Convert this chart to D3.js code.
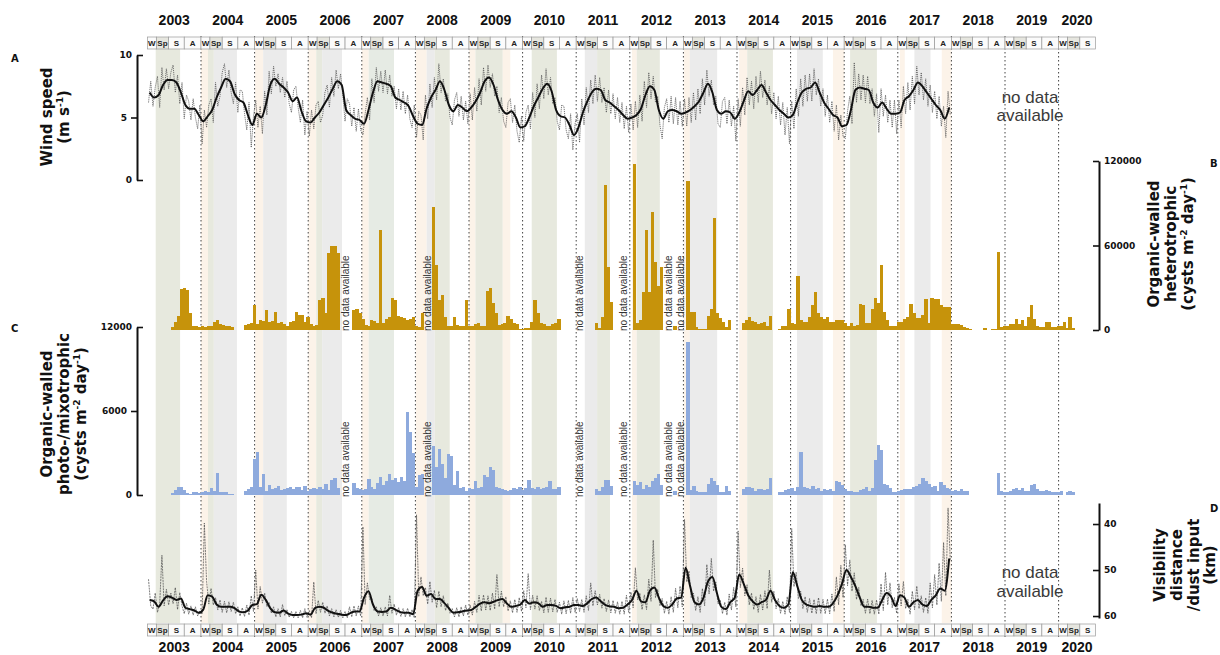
<!DOCTYPE html>
<html><head><meta charset="utf-8">
<script src="https://cdn.jsdelivr.net/npm/d3@7"></script>
<style>body{margin:0;background:#fff}svg{display:block}</style>
</head><body>
<svg id="chart" width="1220" height="655"></svg>
<script>
// ---------- data ----------
const years = d3.range(2003, 2021);
const seasonNames = ["W", "Sp", "S", "A"];
const seasonBounds = [0, 2 / 12, 4.75 / 12, 8.25 / 12, 1];

// shaded seasonal bands [start, end, kind]
const bands = [
  [2003.155, 2003.61, "g"],
  [2004.00, 2004.13, "p"], [2004.13, 2004.24, "g"], [2004.24, 2004.67, "k"],
  [2005.01, 2005.16, "p"], [2005.16, 2005.60, "k"],
  [2006.00, 2006.15, "p"], [2006.15, 2006.26, "g"], [2006.26, 2006.63, "k"],
  [2007.00, 2007.13, "p"], [2007.13, 2007.60, "m"],
  [2008.01, 2008.21, "p"], [2008.21, 2008.36, "k"], [2008.36, 2008.64, "g"],
  [2009.00, 2009.12, "p"], [2009.12, 2009.63, "g"], [2009.63, 2009.77, "p"],
  [2010.17, 2010.64, "g"],
  [2011.16, 2011.39, "k"], [2011.39, 2011.63, "g"],
  [2012.04, 2012.13, "p"], [2012.13, 2012.56, "g"],
  [2013.01, 2013.12, "p"], [2013.12, 2013.63, "k"],
  [2014.04, 2014.19, "p"], [2014.19, 2014.67, "g"],
  [2015.12, 2015.60, "k"], [2015.79, 2016.00, "p"],
  [2016.11, 2016.61, "g"],
  [2017.04, 2017.13, "p"], [2017.31, 2017.61, "k"], [2017.82, 2018.00, "p"]
];

// wind speed (m/s): monthly running mean, one row per year 2003-2017
const windMonthly = [
  [7.0,6.6,6.8,7.6,8.0,8.0,7.8,7.0,6.0,5.7,5.7,5.2],
  [4.7,5.1,5.6,6.6,7.4,8.1,7.9,6.9,6.4,6.2,5.2,4.4],
  [5.3,5.0,6.0,7.6,8.1,7.7,7.4,7.0,6.3,6.6,5.5,4.7],
  [4.6,5.0,5.4,6.0,6.6,7.3,7.9,7.6,5.6,5.2,4.9,4.8],
  [4.5,5.6,7.0,7.9,7.8,7.7,7.5,6.6,6.4,6.2,5.9,5.1],
  [4.5,4.4,5.7,6.6,7.2,7.9,7.2,6.0,5.5,6.0,5.8,5.5],
  [5.8,6.3,7.0,7.9,8.2,7.6,6.4,5.6,5.3,5.5,5.0,4.2],
  [4.3,5.0,5.9,6.6,7.3,7.7,7.1,5.6,5.1,5.0,4.4,3.6],
  [4.2,5.4,6.3,7.0,7.3,7.2,6.4,6.2,5.9,5.6,5.2,4.9],
  [5.0,5.2,5.7,6.8,7.5,7.2,5.6,4.9,5.5,5.6,5.5,5.3],
  [5.4,5.6,5.9,6.3,7.0,7.7,7.0,5.6,5.3,5.5,5.4,4.9],
  [5.4,6.3,7.1,6.8,7.2,7.6,7.0,6.4,6.0,5.6,5.3,5.0],
  [5.2,6.2,7.0,7.3,7.4,7.8,7.0,6.2,5.7,5.2,5.0,4.3],
  [4.4,5.6,7.2,7.4,7.3,7.2,6.2,5.8,6.2,5.7,5.3,5.3],
  [5.4,6.4,6.7,7.2,7.8,7.5,7.0,6.5,6.0,5.6,4.9,5.8]
];
// wind speed (m/s): half-monthly values, one row per year
const windRaw = [
  [6.2,7.9,5.9,7.4,8.3,5.8,9.0,7.2,8.9,7.3,8.6,9.2,7.0,8.4,6.1,7.8,4.9,6.8,6.3,4.8,6.5,5.0,4.1,6.0],
  [2.9,5.6,4.2,6.0,6.5,4.6,7.8,5.9,6.7,8.6,9.3,7.4,8.8,7.0,6.1,7.8,5.4,7.2,7.1,5.3,4.0,6.2,2.6,5.1],
  [6.4,4.2,5.9,3.7,7.1,5.2,8.7,6.9,9.1,7.5,8.5,7.0,8.2,6.6,7.9,6.1,5.4,7.2,7.5,5.8,4.6,6.4,3.6,5.5],
  [3.5,5.6,4.1,6.0,6.3,4.6,5.2,7.0,7.6,5.8,8.2,6.7,8.8,7.3,8.5,6.8,4.7,6.5,6.1,4.3,5.8,3.9,5.7,4.0],
  [3.6,5.3,6.6,4.8,8.1,6.2,9.0,7.1,8.7,7.0,8.8,6.9,8.4,6.7,7.5,5.7,7.3,5.6,7.1,5.3,6.8,4.9,4.2,6.0],
  [3.4,5.5,5.2,3.2,6.8,4.9,7.7,5.8,8.2,6.4,9.3,7.0,8.1,6.3,6.9,5.0,4.4,6.4,7.0,5.1,6.7,4.8,6.3,4.5],
  [6.9,4.8,7.4,5.5,8.1,6.0,9.0,7.1,9.2,7.4,8.5,6.7,7.5,5.4,6.6,4.7,4.2,6.2,6.5,4.6,6.0,3.9,3.0,5.1],
  [3.1,5.4,6.0,4.1,7.0,5.0,7.7,5.7,8.4,6.5,8.9,6.8,8.2,6.1,6.6,4.7,4.0,6.0,5.9,4.0,3.3,5.3,2.4,4.5],
  [5.3,3.0,6.5,4.4,7.4,5.4,8.0,6.1,8.4,6.3,8.2,6.2,7.4,5.4,7.2,5.3,6.9,4.9,6.6,4.6,6.2,4.1,5.9,3.8],
  [6.1,4.0,6.3,4.2,6.8,4.7,7.9,5.8,8.6,6.5,8.3,6.2,6.7,4.4,3.3,5.8,6.5,4.6,6.7,4.5,6.6,4.4,6.3,4.3],
  [6.5,4.3,6.6,4.6,7.0,4.8,7.3,5.3,8.1,6.0,8.8,6.7,8.0,6.0,6.7,4.5,4.2,6.3,6.6,4.5,6.4,4.3,5.9,3.1],
  [6.5,4.3,7.4,5.2,8.2,6.0,7.9,5.7,8.3,6.2,8.7,6.6,8.0,6.0,7.5,5.3,7.0,4.9,6.7,4.4,6.2,3.6,5.8,2.9],
  [6.3,4.1,7.3,5.1,8.1,5.9,8.4,6.3,8.5,6.3,8.9,6.8,8.1,5.9,7.3,5.1,6.8,4.6,6.3,3.9,6.0,3.2,5.2,3.5],
  [3.3,5.5,6.7,4.5,9.4,6.2,8.5,6.4,8.4,6.2,8.3,6.1,7.3,5.1,6.9,3.8,7.3,5.1,6.8,4.6,6.4,4.2,6.4,3.7],
  [6.4,4.2,7.5,5.3,7.8,5.6,8.3,6.1,9.1,6.8,8.6,6.4,8.1,5.9,7.6,5.4,7.1,4.9,6.7,4.3,5.9,3.4,7.1,5.2]
];

// visibility distance (km): monthly running mean, one row per year 2003-2017
const visMonthly = [
  [56.5,56.8,58.0,56.6,55.7,56.0,56.5,56.2,58.2,58.5,58.8,59.3],
  [58.6,55.5,55.8,57.5,58.0,58.0,58.0,58.3,59.0,59.2,58.8,57.6],
  [57.4,55.4,56.5,58.3,59.2,59.3,58.8,59.5,59.8,59.8,59.7,59.4],
  [59.7,58.3,58.0,58.2,58.9,59.3,59.5,59.7,59.8,59.3,59.0,59.0],
  [56.0,54.6,57.5,59.0,59.1,59.0,58.2,58.6,59.1,59.3,59.3,59.6],
  [54.5,53.7,55.6,55.2,56.3,56.3,57.2,58.3,59.3,59.2,59.0,58.8],
  [58.7,58.0,57.3,57.0,57.2,56.9,56.5,56.3,57.3,58.0,57.8,57.5],
  [56.5,57.3,57.0,57.2,58.0,57.6,57.6,57.8,58.3,58.1,58.0,57.6],
  [57.6,57.8,57.2,56.3,56.0,56.8,57.6,57.9,58.0,58.3,58.2,57.5],
  [56.5,54.5,56.8,57.0,54.5,53.8,56.0,57.8,58.2,57.5,56.2,56.0],
  [49.5,53.5,57.0,57.5,56.0,52.5,51.5,55.0,58.0,58.5,57.0,56.0],
  [51.0,53.0,55.5,56.8,57.5,57.0,56.5,54.5,56.5,57.8,58.2,57.5],
  [50.5,53.5,56.5,57.5,57.8,58.0,57.8,58.0,58.0,57.2,55.5,53.0],
  [50.0,51.5,53.5,56.0,58.0,58.0,58.2,58.2,56.5,55.0,55.8,57.8],
  [55.5,56.0,58.0,57.0,56.5,57.5,57.8,56.5,55.5,54.0,54.5,47.5]
];
// visibility distance (km): half-monthly values, one row per year
const visRaw = [
  [52.0,57.8,58.5,55.0,59.2,57.4,46.8,57.8,54.2,57.6,55.0,57.3,53.8,58.6,54.9,57.8,59.5,57.2,59.6,57.8,59.8,58.0,60.0,58.9],
  [59.6,39.8,52.5,57.4,54.0,57.6,56.0,58.7,56.5,59.2,56.8,59.3,56.9,59.0,57.0,59.5,58.0,60.0,58.2,60.1,57.6,59.8,55.6,59.0],
  [50.0,58.5,53.6,57.2,55.0,58.0,57.0,59.4,58.0,60.2,58.4,60.2,57.5,59.9,58.6,60.3,59.0,60.4,59.0,60.4,58.8,60.4,58.4,60.3],
  [58.8,60.4,52.6,59.5,56.6,59.2,57.0,59.4,57.8,60.0,58.4,60.2,58.6,60.3,58.8,60.4,59.0,60.4,58.0,60.2,57.8,60.0,57.8,60.0],
  [40.6,57.5,52.8,56.4,56.2,58.8,58.0,60.0,58.2,60.0,58.0,60.0,55.5,59.4,57.4,59.8,58.2,60.1,58.4,60.2,58.3,60.2,58.6,60.4],
  [38.0,55.8,51.5,55.6,53.8,57.4,52.5,57.0,54.4,58.2,54.6,58.0,55.6,58.8,57.2,59.4,58.4,60.2,58.2,60.2,58.0,60.0,57.6,59.8],
  [57.6,59.8,56.8,59.2,55.5,58.9,55.4,58.7,55.6,58.8,55.0,58.5,51.0,58.0,54.6,58.0,55.8,58.9,56.7,59.3,56.4,59.2,56.0,59.0],
  [54.5,58.2,50.8,58.6,55.5,58.5,55.6,58.8,56.8,59.3,55.9,59.2,56.1,59.1,56.4,59.2,57.0,59.6,56.7,59.5,56.6,59.4,56.0,59.2],
  [56.2,59.0,56.4,59.2,55.6,58.8,52.8,57.8,54.5,57.6,55.3,58.3,56.2,59.0,56.5,59.3,56.6,59.4,56.9,59.6,56.8,59.6,55.5,59.2],
  [54.8,58.2,49.5,56.5,55.0,58.6,55.4,58.6,52.0,56.8,43.5,56.0,54.2,57.8,56.2,59.4,56.8,59.6,55.8,59.2,54.0,58.2,53.5,58.0],
  [39.0,52.6,50.2,56.0,55.0,58.8,55.8,59.2,54.0,57.8,48.8,55.2,47.5,54.6,52.6,57.4,56.5,59.5,57.0,59.8,55.2,58.7,53.8,58.0],
  [41.5,53.8,49.6,55.6,53.2,57.6,55.0,58.6,55.8,59.2,55.3,58.7,54.5,58.4,50.0,57.0,54.6,58.4,56.2,59.4,56.8,59.6,55.8,59.2],
  [41.0,53.6,50.5,56.2,54.6,58.4,55.8,59.2,56.2,59.4,56.4,59.5,56.0,59.4,56.4,59.5,56.3,59.5,55.2,59.0,51.5,57.6,49.0,56.0],
  [44.5,53.4,47.8,54.6,50.6,56.4,53.8,57.8,56.4,59.4,56.3,59.5,56.6,59.6,56.5,59.6,53.0,58.8,50.5,57.6,52.8,58.2,56.0,59.4],
  [53.0,57.8,52.5,58.4,56.4,59.6,54.6,58.6,53.5,58.4,55.6,59.2,56.0,59.4,52.8,58.2,51.0,57.6,48.5,56.8,44.0,55.6,36.5,48.0]
];

// sediment-trap deployments: start (decimal year); each sample spans 1/18 year
const sampleYears = 1 / 18;
const segStarts = [2003.44, 2004.80, 2006.82, 2008.31, 2011.35, 2012.06, 2012.81, 2013.05, 2014.09, 2014.77, 2018.59, 2018.74];

// heterotrophic cyst flux (cysts m-2 day-1)
const heteroFlux = [
  [2000,5500,10000,29000,30000,28500,12000,3000,2500,2000,2500,2200,3000,2800,6000,7000,4000,3500,3000,2500,1800],
  [3500,4000,5000,18000,4500,7000,6500,14000,6000,6500,13000,5000,5500,4500,3000,6000,6500,12500,11000,10500,6000,9000,4500,3000,3500,21000,23000,12000,55000,60000,60000,55000],
  [14000,15000,12000,8000,3500,3000,7000,6500,5000,71000,5000,8000,9000,23000,21000,10000,9500,8500,7000,7500,9000,2500,2000,12000],
  [87500,46000,21000,25000,9000,3000,3000,9000,3500,3000,2500,21000,2500,2500,4500,5000,2500,3000,28000,30000,19000,12000,3500,4000,5000,10000,8000,5000,4000,1000,1000,1200,1500,6000,21000,12000,5000,4000,3000,3000,4000,5000,8000],
  [5000,1500,9500,103000,45000,20000],
  [118000,5000,7000,27000,71000,27000,84000,48000,31000,45000],
  [3000],
  [106000,13000,13000,2000,1000,1000,1000,10000,15000,79500,12000,8500,6000,2000,7000],
  [5000,7000,9000,6500,5500,4500,5000,5500,3000,10000],
  [1000,3000,2500,15000,5000,4000,38000,7000,6000,5500,9000,18000,27000,12000,9000,8000,9000,5500,6000,7000,7000,7000,5000,3000,5000,3000,3500,18500,18000,5000,5000,15000,23000,19000,46000,13000,7000,3000,3000,3000,6000,6000,8000,9000,18500,12000,8500,8500,11000,22000,5000,23000,22000,22000,18000,16000,16000,16000,4500,4500,4000,3500,2000,1500,1000],
  [1500],
  [1000,1000,55500,2000,2500,3000,4000,4000,8000,4000,7000,3000,9000,17500,8000,3000,2000,2000,6000,6000,2000,2000,3000,3000,6000,1500,9000,1500]
];

// photo-/mixotrophic cyst flux (cysts m-2 day-1)
const photoFlux = [
  [150,350,550,600,350,150,100,200,200,150,250,300,250,500,300,1600,250,200,200,100,100],
  [300,400,600,2600,3100,600,1500,300,700,400,500,650,350,400,500,600,400,550,600,350,650,300,400,500,450,600,400,800,350,1100,1200,500],
  [850,500,400,350,400,1150,600,450,850,1300,700,1000,1500,1100,1200,900,1300,1000,5900,4500,3000,600,1400,1500],
  [3500,2000,3300,2200,1200,2900,2800,700,1700,500,600,300,500,400,1000,500,600,1400,1300,2000,1800,600,500,400,350,300,350,500,400,600,350,500,1100,500,400,600,400,500,600,1000,400,450,600],
  [430,300,550,1050,1100,650],
  [1000,700,900,450,700,600,1000,1250,1500,700],
  [300],
  [10900,350,650,300,250,200,200,780,1250,1000,700,250,200,650,300],
  [400,550,600,500,300,450,450,350,400,1250],
  [200,250,350,400,500,300,600,3100,600,500,450,650,400,500,300,400,350,400,300,1000,900,700,400,300,300,250,250,350,400,550,300,500,2500,3600,3200,800,700,500,250,200,300,350,400,450,450,550,650,800,1250,1000,800,550,650,300,900,700,500,400,300,350,300,400,300,300,0],
  [0],
  [0,0,1600,300,250,200,300,400,500,350,500,300,300,750,800,400,300,300,350,300,250,200,200,300,0,200,300,200]
];

// sampling gaps marked in the cyst panels
const gapMarks = [2006.69, 2008.235, 2011.07, 2011.89, 2012.73, 2012.95];

// ---------- layout ----------
const svg = d3.select("#chart");
const x = d3.scaleLinear().domain([2003, 2020.75]).range([147.4, 1098.8]);
const yWind = d3.scaleLinear().domain([0, 10]).range([180, 55]);
const yHet = d3.scaleLinear().domain([0, 120000]).range([330, 161]);
const yPho = d3.scaleLinear().domain([0, 12000]).range([495, 327]);
const yVis = d3.scaleLinear().domain([35.43, 60.43]).range([503, 618]);

const bandFill = { g: "#e7e9de", k: "#ebebeb", m: "#e6ebe4", p: "#fcf3e9" };
const heteroColor = "#c6930b";
const photoColor = "#8eaadd";
const sans = "Liberation Sans, Arial, sans-serif";
const bold = "DejaVu Sans, Verdana, sans-serif";

// seasonal bands
svg.append("g").selectAll("rect").data(bands).join("rect")
  .attr("x", d => x(d[0])).attr("width", d => x(d[1]) - x(d[0]))
  .attr("y", 49).attr("height", 574)
  .attr("fill", d => bandFill[d[2]]);

// year boundaries
svg.append("g").selectAll("line").data(years.slice(1)).join("line")
  .attr("x1", d => x(d)).attr("x2", d => x(d))
  .attr("y1", 36).attr("y2", 637)
  .attr("stroke", "#444").attr("stroke-width", 1)
  .attr("stroke-dasharray", "1.5,2.5");

// season boxes + year labels (top and bottom)
const seasonCells = [];
years.forEach(yr => {
  const n = yr === 2020 ? 3 : 4;
  for (let i = 0; i < n; i++) seasonCells.push({ yr, i, t0: yr + seasonBounds[i], t1: yr + seasonBounds[i + 1] });
});
[[37, 25], [624, 652]].forEach(([top, labelY]) => {
  const g = svg.append("g");
  g.selectAll("rect").data(seasonCells).join("rect")
    .attr("x", d => x(d.t0)).attr("width", d => x(d.t1) - x(d.t0))
    .attr("y", top).attr("height", 12)
    .attr("fill", d => d.i === 1 ? "#e6e6df" : "#fbfbfb")
    .attr("stroke", "#9a9a9a").attr("stroke-width", 0.7);
  g.selectAll("text.s").data(seasonCells).join("text").attr("class", "s")
    .attr("x", d => (x(d.t0) + x(d.t1)) / 2).attr("y", top + 9)
    .attr("text-anchor", "middle").attr("font-family", sans).attr("font-weight", "bold")
    .attr("font-size", 8).attr("fill", "#222").text(d => seasonNames[d.i]);
  g.selectAll("text.y").data(years).join("text").attr("class", "y")
    .attr("x", d => d === 2020 ? (x(2020) + x(2020.69)) / 2 : (x(d) + x(d + 1)) / 2)
    .attr("y", labelY).attr("text-anchor", "middle")
    .attr("font-family", sans).attr("font-weight", "bold").attr("font-size", 14)
    .attr("fill", "#111").text(d => d);
});

// ---------- cyst bars ----------
function samples(flux) {
  const out = [];
  segStarts.forEach((s, k) => flux[k].forEach((v, i) => out.push({ t0: s + i * sampleYears, t1: s + (i + 1) * sampleYears, v })));
  return out;
}
function drawBars(flux, y, color) {
  svg.append("g").attr("shape-rendering", "crispEdges").selectAll("rect").data(samples(flux)).join("rect")
    .attr("x", d => x(d.t0)).attr("width", d => x(d.t1) - x(d.t0) + 0.5)
    .attr("y", d => y(d.v)).attr("height", d => y(0) - y(d.v))
    .attr("fill", color);
}
drawBars(heteroFlux, yHet, heteroColor);
drawBars(photoFlux, yPho, photoColor);

// vertical "no data available" marks in both cyst panels
[331, 497].forEach(base => {
  svg.append("g").selectAll("text").data(gapMarks).join("text")
    .attr("transform", d => `translate(${x(d) + 3.5},${base}) rotate(-90)`)
    .attr("font-family", sans).attr("font-size", 10).attr("fill", "#333")
    .text("no data available");
});

// ---------- time series ----------
function series(rows) {
  const out = [];
  rows.forEach((row, k) => row.forEach((v, i) => out.push({ t: 2003 + k + (i + 0.5) / row.length, v })));
  return out;
}
function drawSeries(rows, y, opts) {
  svg.append("path").datum(series(rows))
    .attr("fill", "none").attr("stroke", opts.color).attr("stroke-width", opts.width)
    .attr("stroke-dasharray", opts.dash || null).attr("stroke-linejoin", "round")
    .attr("d", d3.line().x(d => x(d.t)).y(d => y(d.v)).curve(opts.curve || d3.curveLinear));
}
drawSeries(windRaw, yWind, { color: "#555", width: 0.8, dash: "1.2,0.9" });
drawSeries(windMonthly, yWind, { color: "#111", width: 2, curve: d3.curveMonotoneX });
drawSeries(visRaw, yVis, { color: "#4a4a4a", width: 0.7, dash: "2,0.8" });
drawSeries(visMonthly, yVis, { color: "#111", width: 2, curve: d3.curveMonotoneX });

// ---------- axes ----------
function styleAxis(g) {
  g.select(".domain").attr("stroke", "#111").attr("stroke-width", 2);
  g.selectAll(".tick line").attr("stroke", "#111").attr("stroke-width", 1.6);
  g.selectAll(".tick text").attr("font-family", bold).attr("font-weight", "bold")
    .attr("font-size", 9).attr("fill", "#111");
}
// left bracket axes: end ticks turn inward, middle tick outward
function leftAxis(scale, ticks, fmt) {
  const g = svg.append("g").attr("transform", "translate(137,0)")
    .call(d3.axisLeft(scale).tickValues(ticks).tickSize(6).tickSizeOuter(0).tickPadding(4).tickFormat(fmt));
  styleAxis(g);
  const ends = [ticks[0], ticks[ticks.length - 1]];
  g.selectAll(".tick").filter(d => ends.includes(d)).select("line").attr("x2", 6);
  g.selectAll(".tick").filter(d => ends.includes(d)).select("text").attr("x", -5);
}
leftAxis(yWind, [0, 5, 10], d3.format("d"));
leftAxis(yPho, [0, 6000, 12000], d3.format("d"));

function rightAxis(scale, ticks) {
  const g = svg.append("g").attr("transform", "translate(1099,0)")
    .call(d3.axisRight(scale).tickValues(ticks).tickSize(-6).tickSizeOuter(0).tickPadding(5).tickFormat(d3.format("d")));
  styleAxis(g);
}
rightAxis(yHet, [0, 60000, 120000]);
rightAxis(yVis, [40, 50, 60]);

// ---------- titles ----------
function rotTitle(xs, cy, lines) {
  lines.forEach((parts, i) => {
    const t = svg.append("text")
      .attr("transform", `translate(${xs[i]},${cy}) rotate(-90)`)
      .attr("text-anchor", "middle").attr("font-family", bold)
      .attr("font-weight", "bold").attr("font-size", 15).attr("fill", "#111");
    let raised = false;
    parts.forEach(p => {
      if (typeof p === "string") {
        t.append("tspan").attr("dy", raised ? 6 : null).text(p);
        raised = false;
      } else {
        t.append("tspan").attr("dy", -6).attr("font-size", 9).text(p.sup);
        raised = true;
      }
    });
  });
}
rotTitle([52, 69], 117, [["Wind speed"], ["(m s", { sup: "-1" }, ")"]]);
rotTitle([52, 69, 86], 414, [["Organic-walled"], ["photo-/mixotrophic"], ["(cysts m", { sup: "-2" }, " day", { sup: "-1" }, ")"]]);
rotTitle([1159, 1176, 1193], 244, [["Organic-walled"], ["heterotrophic"], ["(cysts m", { sup: "-2" }, " day", { sup: "-1" }, ")"]]);
rotTitle([1165, 1182, 1199, 1215], 565, [["Visibility"], ["distance"], ["/dust input"], ["(km)"]]);

// panel letters
[["A", 11, 62], ["C", 11, 332], ["B", 1210, 167], ["D", 1210, 512]].forEach(([s, px, py]) => {
  svg.append("text").attr("x", px).attr("y", py).attr("font-family", bold)
    .attr("font-weight", "bold").attr("font-size", 10).attr("fill", "#111").text(s);
});

// "no data available" for the meteorological series after 2017
[[103, 121], [578, 597]].forEach(([y1, y2]) => {
  const t = svg.append("text").attr("text-anchor", "middle").attr("font-family", sans)
    .attr("font-size", 17).attr("fill", "#3a3a3a");
  t.append("tspan").attr("x", 1030).attr("y", y1).text("no data");
  t.append("tspan").attr("x", 1030).attr("y", y2).text("available");
});
</script>
</body></html>
